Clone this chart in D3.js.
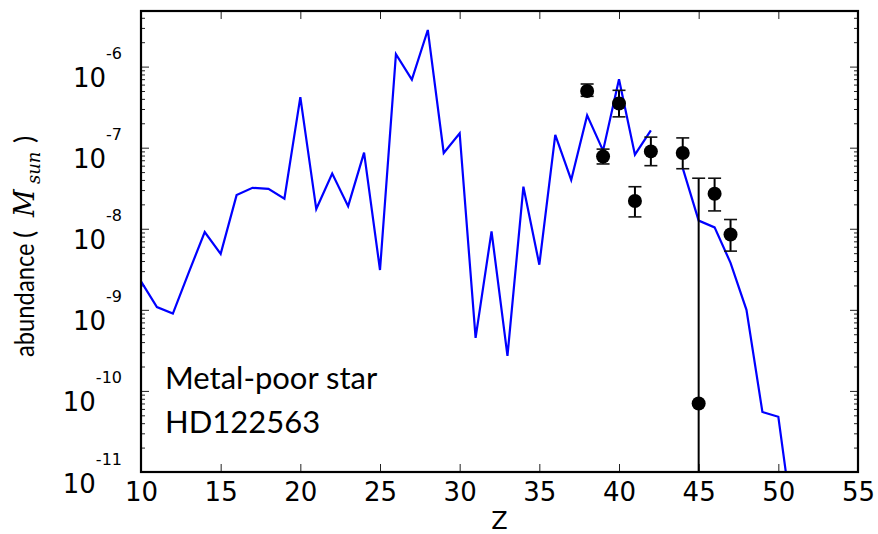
<!DOCTYPE html>
<html><head><meta charset="utf-8">
<script src="https://cdn.jsdelivr.net/npm/d3@7"></script>
<style>body{margin:0;background:#fff}</style>
</head><body><svg id="c" width="878" height="534"></svg>
<script>
// ---- data ----
const modelZ = [10,11,12,13,14,15,16,17,18,19,20,21,22,23,24,25,26,27,28,29,30,31,32,33,34,35,36,37,38,39,40,41,42,43,44,45,46,47,48,49,50,51];
const modelAbund = [2.25e-9,1.08e-9,9.0e-10,2.9e-9,9.1e-9,4.9e-9,2.6e-8,3.2e-8,3.1e-8,2.35e-8,4.2e-7,1.75e-8,4.8e-8,1.9e-8,8.7e-8,3.1e-9,1.42e-6,6.9e-7,2.83e-6,8.6e-8,1.5e-7,4.5e-10,9.3e-9,2.7e-10,3.3e-8,3.6e-9,1.44e-7,4.0e-8,2.5e-7,9.2e-8,7.0e-7,8.2e-8,1.63e-7,null,5.6e-8,1.26e-8,1.04e-8,3.8e-9,1.0e-9,5.5e-11,4.8e-11,1.7e-12];
const obsZ = [38,39,40,41,42,44,45,46,47];
const obsAbund = [5.0e-7,7.8e-8,3.5e-7,2.2e-8,9.0e-8,8.6e-8,7.0e-11,2.7e-8,8.5e-9];
const obsLow  = [4.3e-7,6.3e-8,2.4e-7,1.4e-8,6.0e-8,5.5e-8,1e-13,1.66e-8,5.3e-9];
const obsHigh = [6.1e-7,9.6e-8,5.1e-7,3.3e-8,1.35e-7,1.32e-7,4.2e-8,4.2e-8,1.3e-8];
const xTicks = [10,15,20,25,30,35,40,45,50,55];
const yMajorTicks = [1e-11,1e-10,1e-9,1e-8,1e-7,1e-6];
const yTickExponents = ["-11","-10","-9","-8","-7","-6"];
const annotationLines = ["Metal-poor star","HD122563"];
const xLabel = "Z";

// ---- layout ----
const m = {left:141, right:858, top:11, bottom:472};
const svg = d3.select("#c");
const x = d3.scaleLinear().domain([10,55]).range([m.left,m.right]);
const y = d3.scaleLog().domain([1e-11,4.85e-6]).range([m.bottom,m.top]);

svg.append("defs").append("clipPath").attr("id","clip")
  .append("rect").attr("x",m.left).attr("y",m.top).attr("width",m.right-m.left).attr("height",m.bottom-m.top);

// minor y ticks
const yMinor = [];
for (let e=-11;e<=-6;e++) for (let k=2;k<=9;k++){const v=k*Math.pow(10,e); if(v<=4.85e-6) yMinor.push(v);}

const tickStyle = g => { g.select(".domain").remove(); g.selectAll(".tick line").attr("stroke","#222").attr("stroke-width",1); };

svg.append("g").attr("transform",`translate(0,${m.bottom})`)
  .call(d3.axisBottom(x).tickValues(xTicks).tickSize(-8).tickPadding(11).tickFormat(d=>d))
  .call(tickStyle)
  .call(g=>g.selectAll("text").attr("font-family","DejaVu Sans").attr("font-size",26).attr("fill","#000"));
svg.append("g").attr("transform",`translate(0,${m.top})`)
  .call(d3.axisTop(x).tickValues(xTicks).tickSize(-8).tickFormat(""))
  .call(tickStyle);
svg.append("g").attr("transform",`translate(${m.left},0)`)
  .call(d3.axisLeft(y).tickValues(yMajorTicks).tickSize(-8).tickFormat(""))
  .call(tickStyle);
svg.append("g").attr("transform",`translate(${m.left},0)`)
  .call(d3.axisLeft(y).tickValues(yMinor).tickSize(-4).tickFormat(""))
  .call(tickStyle);
svg.append("g").attr("transform",`translate(${m.right},0)`)
  .call(d3.axisRight(y).tickValues(yMajorTicks).tickSize(-8).tickFormat(""))
  .call(tickStyle);
svg.append("g").attr("transform",`translate(${m.right},0)`)
  .call(d3.axisRight(y).tickValues(yMinor).tickSize(-4).tickFormat(""))
  .call(tickStyle);

// y tick labels 10^n
const yl = svg.append("g").selectAll("text").data(yMajorTicks).join("text")
  .attr("x",122).attr("y",d=>y(d)+20.5).attr("text-anchor","end")
  .attr("font-family","DejaVu Sans").attr("fill","#000");
yl.append("tspan").attr("font-size",26).text("10");
yl.append("tspan").attr("font-size",16).attr("dy",-28).text((d,i)=>yTickExponents[i]);

// model line
const pts = modelZ.map((z,i)=>({z, v:modelAbund[i]}));
svg.append("path").attr("clip-path","url(#clip)")
  .attr("d", d3.line().defined(d=>d.v!=null).x(d=>x(d.z)).y(d=>y(d.v))(pts))
  .attr("fill","none").attr("stroke","#0000ff").attr("stroke-width",2.2).attr("stroke-linejoin","miter");

// observed points
const obs = obsZ.map((z,i)=>({z, v:obsAbund[i], lo:obsLow[i], hi:obsHigh[i]}));
const eb = svg.append("g").attr("clip-path","url(#clip)");
eb.selectAll(".bar").data(obs).join("line")
  .attr("x1",d=>x(d.z)).attr("x2",d=>x(d.z)).attr("y1",d=>y(d.lo)).attr("y2",d=>y(d.hi))
  .attr("stroke","#000").attr("stroke-width",2);
eb.selectAll(".capHi").data(obs).join("line")
  .attr("x1",d=>x(d.z)-6.5).attr("x2",d=>x(d.z)+6.5).attr("y1",d=>y(d.hi)).attr("y2",d=>y(d.hi))
  .attr("stroke","#111").attr("stroke-width",1.6);
eb.selectAll(".capLo").data(obs.filter(d=>d.lo>1e-11)).join("line")
  .attr("x1",d=>x(d.z)-6.5).attr("x2",d=>x(d.z)+6.5).attr("y1",d=>y(d.lo)).attr("y2",d=>y(d.lo))
  .attr("stroke","#111").attr("stroke-width",1.6);
svg.append("g").selectAll("circle").data(obs).join("circle")
  .attr("cx",d=>x(d.z)).attr("cy",d=>y(d.v)).attr("r",7).attr("fill","#000");

// frame
svg.append("rect").attr("x",m.left).attr("y",m.top).attr("width",m.right-m.left).attr("height",m.bottom-m.top)
  .attr("fill","none").attr("stroke","#000").attr("stroke-width",2.2);

// annotation
svg.append("g").selectAll("text").data(annotationLines).join("text")
  .attr("x",165).attr("y",(d,i)=>389.3+i*44).attr("font-family","Lato").attr("font-size",31).attr("fill","#000").text(d=>d);

// x label
svg.append("text").attr("x",(m.left+m.right)/2).attr("y",529).attr("text-anchor","middle")
  .attr("font-family","DejaVu Sans").attr("font-size",24).attr("fill","#000").text(xLabel);

// y label (rotated)
const yg = svg.append("g").attr("transform","translate(34,357) rotate(-90)").attr("fill","#000");
yg.append("text").attr("transform","scale(0.88,1)").attr("font-family","Lato").attr("font-size",27).text("abundance");
yg.append("text").attr("x",119).attr("font-family","Lato").attr("font-size",27).text("(");
yg.append("text").attr("x",140).attr("font-family","DejaVu Serif").attr("font-style","italic").attr("font-size",27).text("M");
yg.append("text").attr("x",173).attr("y",6).attr("font-family","DejaVu Serif").attr("font-style","italic").attr("font-size",18).text("sun");
yg.append("text").attr("x",214).attr("font-family","Lato").attr("font-size",27).text(")");
</script></body></html>
